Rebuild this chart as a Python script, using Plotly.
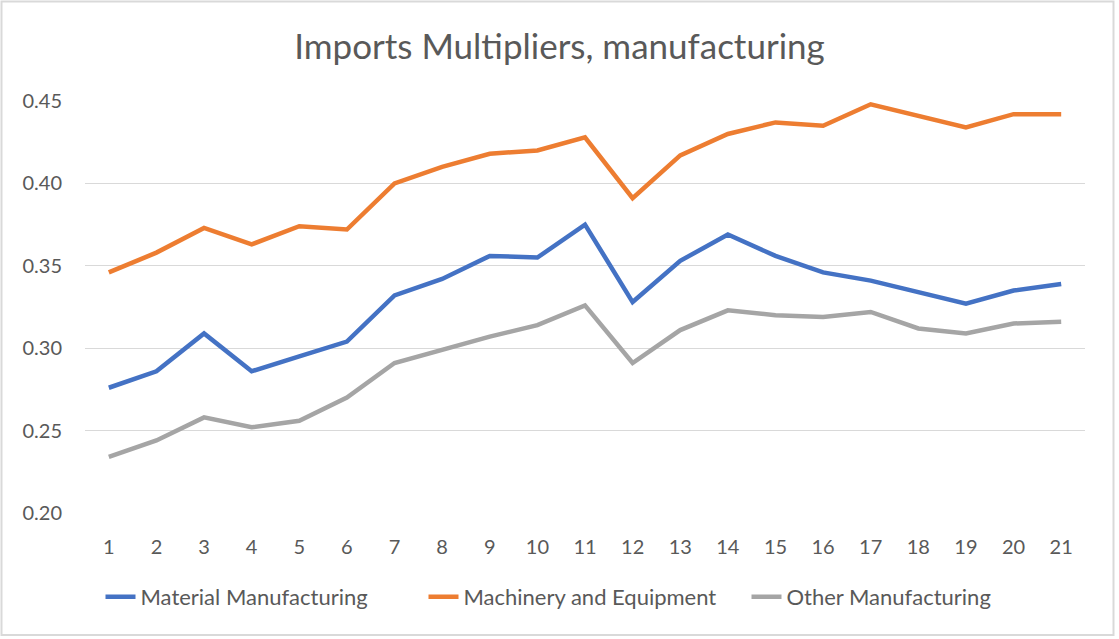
import plotly.graph_objects as go

# periods on the x axis
periods = list(range(1, 22))

# import multipliers per group
material = [0.276, 0.286, 0.309, 0.286, 0.295, 0.304, 0.332, 0.342, 0.356, 0.355, 0.375,
            0.328, 0.353, 0.369, 0.356, 0.346, 0.341, 0.334, 0.327, 0.335, 0.339]
machinery = [0.346, 0.358, 0.373, 0.363, 0.374, 0.372, 0.400, 0.410, 0.418, 0.420, 0.428,
             0.391, 0.417, 0.430, 0.437, 0.435, 0.448, 0.441, 0.434, 0.442, 0.442]
other = [0.234, 0.244, 0.258, 0.252, 0.256, 0.270, 0.291, 0.299, 0.307, 0.314, 0.326,
         0.291, 0.311, 0.323, 0.320, 0.319, 0.322, 0.312, 0.309, 0.315, 0.316]

y_ticks = [0.20, 0.25, 0.30, 0.35, 0.40, 0.45]

txt = '#595959'
font = 'Lato, Carlito, Calibri, sans-serif'

fig = go.Figure()
fig.add_trace(go.Scatter(x=periods, y=material, name='Material Manufacturing',
                         mode='lines', line=dict(color='#4472C4', width=4.5)))
fig.add_trace(go.Scatter(x=periods, y=machinery, name='Machinery and Equipment',
                         mode='lines', line=dict(color='#ED7D31', width=4.5)))
fig.add_trace(go.Scatter(x=periods, y=other, name='Other Manufacturing',
                         mode='lines', line=dict(color='#A5A5A5', width=4.5)))

fig.update_layout(
    width=1119, height=639,
    margin=dict(l=85, r=34, t=101, b=126),
    plot_bgcolor='white', paper_bgcolor='white',
    font=dict(family=font, size=20, color=txt),
    title=dict(text='Imports Multipliers, manufacturing', x=0.5, xanchor='center',
               y=1 - 47 / 639, yanchor='middle',
               font=dict(size=35, color=txt, family=font)),
    legend=dict(orientation='h', x=0.5, xanchor='center', y=-0.204, yanchor='middle',
                font=dict(size=22, color=txt), tracegroupgap=0,
                entrywidth=278, entrywidthmode='pixels'),
    showlegend=True,
)
fig.update_xaxes(range=[0.5, 21.5], tickmode='array', tickvals=periods,
                 showgrid=False, showline=False, zeroline=False, ticks='',
                 ticklabelstandoff=20, tickfont=dict(size=20, color=txt))
fig.update_yaxes(range=[0.2, 0.45], tickmode='array', tickvals=y_ticks,
                 tickformat='.2f', showgrid=True, gridcolor='#D9D9D9', gridwidth=1,
                 zeroline=False, showline=False, ticks='', ticklabelstandoff=22,
                 tickfont=dict(size=20, color=txt))

# chart border
fig.add_shape(type='rect', xref='paper', yref='paper',
              x0=-0.0835, x1=1.0285, y0=-0.296, y1=1.2415,
              line=dict(color='#D9D9D9', width=2), layer='below')

fig.write_html('out.html', config={'displayModeBar': False},
               post_script="document.body.style.margin='0';")
